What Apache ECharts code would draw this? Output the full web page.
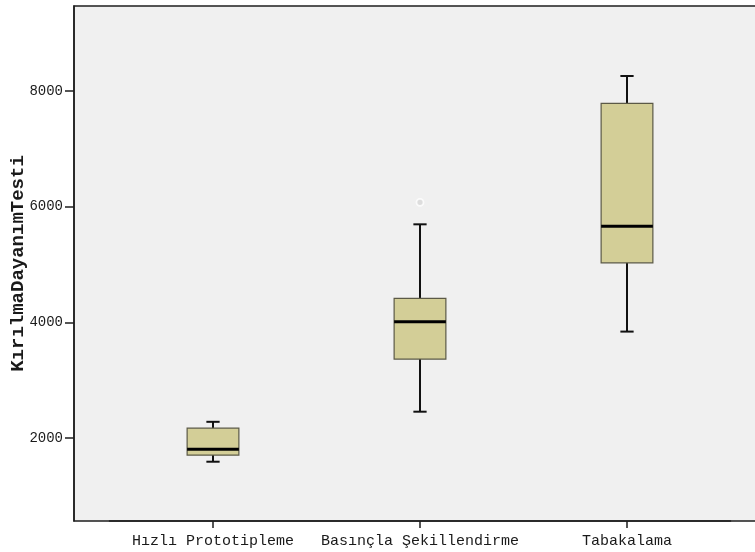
<!DOCTYPE html>
<html>
<head>
<meta charset="utf-8">
<script src="https://cdn.jsdelivr.net/npm/echarts@6/dist/echarts.min.js"></script>
<style>
  html, body { margin: 0; padding: 0; background: #ffffff; }
  #chart { width: 755px; height: 552px; }
</style>
</head>
<body>
<div id="chart"></div>
<script>
// Groups along the x axis
const categories = ['Hızlı Prototipleme', 'Basınçla Şekillendirme', 'Tabakalama'];
// Five-number summaries per group: [min, Q1, median, Q3, max]
const whiskerLow  = [1590, 2455, 3840];
const quartile1   = [1705, 3365, 5030];
const medians     = [1805, 4010, 5660];
const quartile3   = [2170, 4415, 7785];
const whiskerHigh = [2280, 5695, 8260];
// Outlying cases: [group index, value]
const outliers = [[1, 6075]];
// Value axis
const yTicks = [2000, 4000, 6000, 8000];
const yMin = 565;
const yMax = 9470;
const yTitle = 'KırılmaDayanımTesti';

const boxData = categories.map((c, i) =>
  [i, whiskerLow[i], quartile1[i], medians[i], quartile3[i], whiskerHigh[i]]);

const FONT = '"Liberation Mono", "DejaVu Sans Mono", monospace';

function renderBox(params, api) {
  const i = api.value(0);
  const band = api.size([1, 0])[0];
  const half = band * 0.125;
  const cap = band * 0.032;
  const pMin = api.coord([i, api.value(1)]);
  const pQ1 = api.coord([i, api.value(2)]);
  const pMed = api.coord([i, api.value(3)]);
  const pQ3 = api.coord([i, api.value(4)]);
  const pMax = api.coord([i, api.value(5)]);
  const cx = pMed[0];
  const wStyle = { stroke: '#111111', lineWidth: 2 };
  return {
    type: 'group',
    children: [
      { type: 'line', shape: { x1: cx, y1: pQ3[1], x2: cx, y2: pMax[1] }, style: wStyle },
      { type: 'line', shape: { x1: cx, y1: pQ1[1], x2: cx, y2: pMin[1] }, style: wStyle },
      { type: 'line', shape: { x1: cx - cap, y1: pMax[1], x2: cx + cap, y2: pMax[1] }, style: wStyle },
      { type: 'line', shape: { x1: cx - cap, y1: pMin[1], x2: cx + cap, y2: pMin[1] }, style: wStyle },
      {
        type: 'rect',
        shape: { x: cx - half, y: pQ3[1], width: half * 2, height: pQ1[1] - pQ3[1] },
        style: { fill: '#d3ce97', stroke: '#5b5946', lineWidth: 1.2 }
      },
      {
        type: 'line',
        shape: { x1: cx - half, y1: pMed[1], x2: cx + half, y2: pMed[1] },
        style: { stroke: '#000000', lineWidth: 3 }
      }
    ]
  };
}

const chart = echarts.init(document.getElementById('chart'), null, { renderer: 'canvas' });
chart.setOption({
  backgroundColor: '#ffffff',
  animation: false,
  grid: [
    { left: 109.5, width: 621, top: 6, bottom: 31, outerBoundsMode: 'none', containLabel: false },
    {
      left: 74, right: -20, top: 6, bottom: 31, show: true, z: -1,
      outerBoundsMode: 'none', containLabel: false,
      backgroundColor: '#f0f0f0', borderColor: '#1e1e1e', borderWidth: 1.5
    }
  ],
  xAxis: [
    {
      type: 'category', gridIndex: 0, data: categories, boundaryGap: true,
      axisLine: { show: true, lineStyle: { color: '#1e1e1e', width: 1.5 } },
      axisTick: { show: true, alignWithLabel: true, interval: 0, length: 7, lineStyle: { color: '#1e1e1e', width: 1.5 } },
      axisLabel: { color: '#1a1a1a', fontFamily: FONT, fontSize: 15, margin: 13, interval: 0, hideOverlap: false }
    },
    { type: 'value', gridIndex: 1, show: false, min: 0, max: 1 }
  ],
  yAxis: [
    { type: 'value', gridIndex: 0, show: false, min: yMin, max: yMax },
    {
      type: 'value', gridIndex: 1, min: yMin, max: yMax,
      name: yTitle, nameLocation: 'middle', nameGap: 46, nameMoveOverlap: false,
      nameTextStyle: { color: '#1a1a1a', fontFamily: FONT, fontSize: 19, fontWeight: 'bold' },
      axisLine: { show: true, lineStyle: { color: '#1e1e1e', width: 1.5 } },
      axisTick: { show: true, length: 9, customValues: yTicks, lineStyle: { color: '#1e1e1e', width: 1.5 } },
      axisLabel: {
        color: '#1a1a1a', fontFamily: FONT, fontSize: 14, margin: 11, customValues: yTicks,
        formatter: (v) => String(v)
      },
      splitLine: { show: false }
    }
  ],
  series: [
    {
      type: 'custom', xAxisIndex: 0, yAxisIndex: 0,
      renderItem: renderBox,
      encode: { x: 0, y: [1, 2, 3, 4, 5] },
      data: boxData,
      z: 3
    },
    {
      type: 'scatter', xAxisIndex: 0, yAxisIndex: 0,
      data: outliers,
      symbol: 'circle', symbolSize: 7,
      itemStyle: { color: '#d8d8d8', borderColor: '#ffffff', borderWidth: 1.8 },
      z: 4
    }
  ]
});
</script>
</body>
</html>
